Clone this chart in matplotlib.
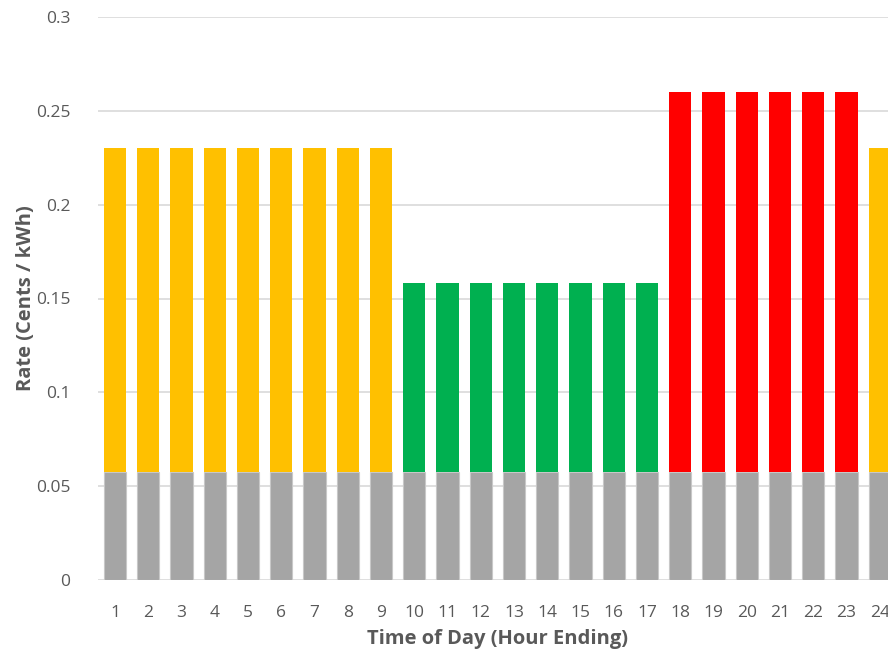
import matplotlib
matplotlib.use("Agg")
import matplotlib.pyplot as plt

hours = list(range(1, 25))
base_rate = [0.0577] * 24
tou_adder = [0.1725] * 9 + [0.1005] * 8 + [0.2023] * 6 + [0.1725]
period_colors = ["#FFC000"] * 9 + ["#00B050"] * 8 + ["#FF0000"] * 6 + ["#FFC000"]
y_ticks = [0, 0.05, 0.1, 0.15, 0.2, 0.25, 0.3]
y_tick_labels = ["0", "0.05", "0.1", "0.15", "0.2", "0.25", "0.3"]

plt.rcParams["font.family"] = ["Open Sans", "DejaVu Sans"]

fig = plt.figure(figsize=(8.88, 6.56), dpi=100)
step = 33.25
ax = fig.add_axes([(115 - step / 2) / 888, 76 / 656, 24 * step / 888, 563 / 656])

ax.bar(hours, base_rate, width=0.67, color="#A5A5A5", edgecolor="#C8C8C8", linewidth=0.8, zorder=3)
ax.bar(hours, tou_adder, bottom=base_rate, width=0.67, color=period_colors, linewidth=0, zorder=3)

ax.set_xlim(0.5, 24.5)
ax.set_ylim(0, 0.3)
ax.set_yticks(y_ticks)
ax.set_yticklabels(y_tick_labels)
ax.set_xticks(hours)
ax.set_xticklabels([str(h) for h in hours])
ax.grid(axis="y", color="#D9D9D9", linewidth=1.2, zorder=0)
ax.set_axisbelow(True)
for s in ax.spines.values():
    s.set_visible(False)
ax.tick_params(axis="both", length=0, labelsize=12.5, labelcolor="#595959")
ax.tick_params(axis="y", pad=20)
ax.tick_params(axis="x", pad=18)
ax.set_xlabel("Time of Day (Hour Ending)", fontsize=14.5, fontweight="bold", color="#595959", labelpad=6)
ax.set_ylabel("Rate (Cents / kWh)", fontsize=14.5, fontweight="bold", color="#595959", labelpad=0)

fig.savefig("out.png", dpi=100)
